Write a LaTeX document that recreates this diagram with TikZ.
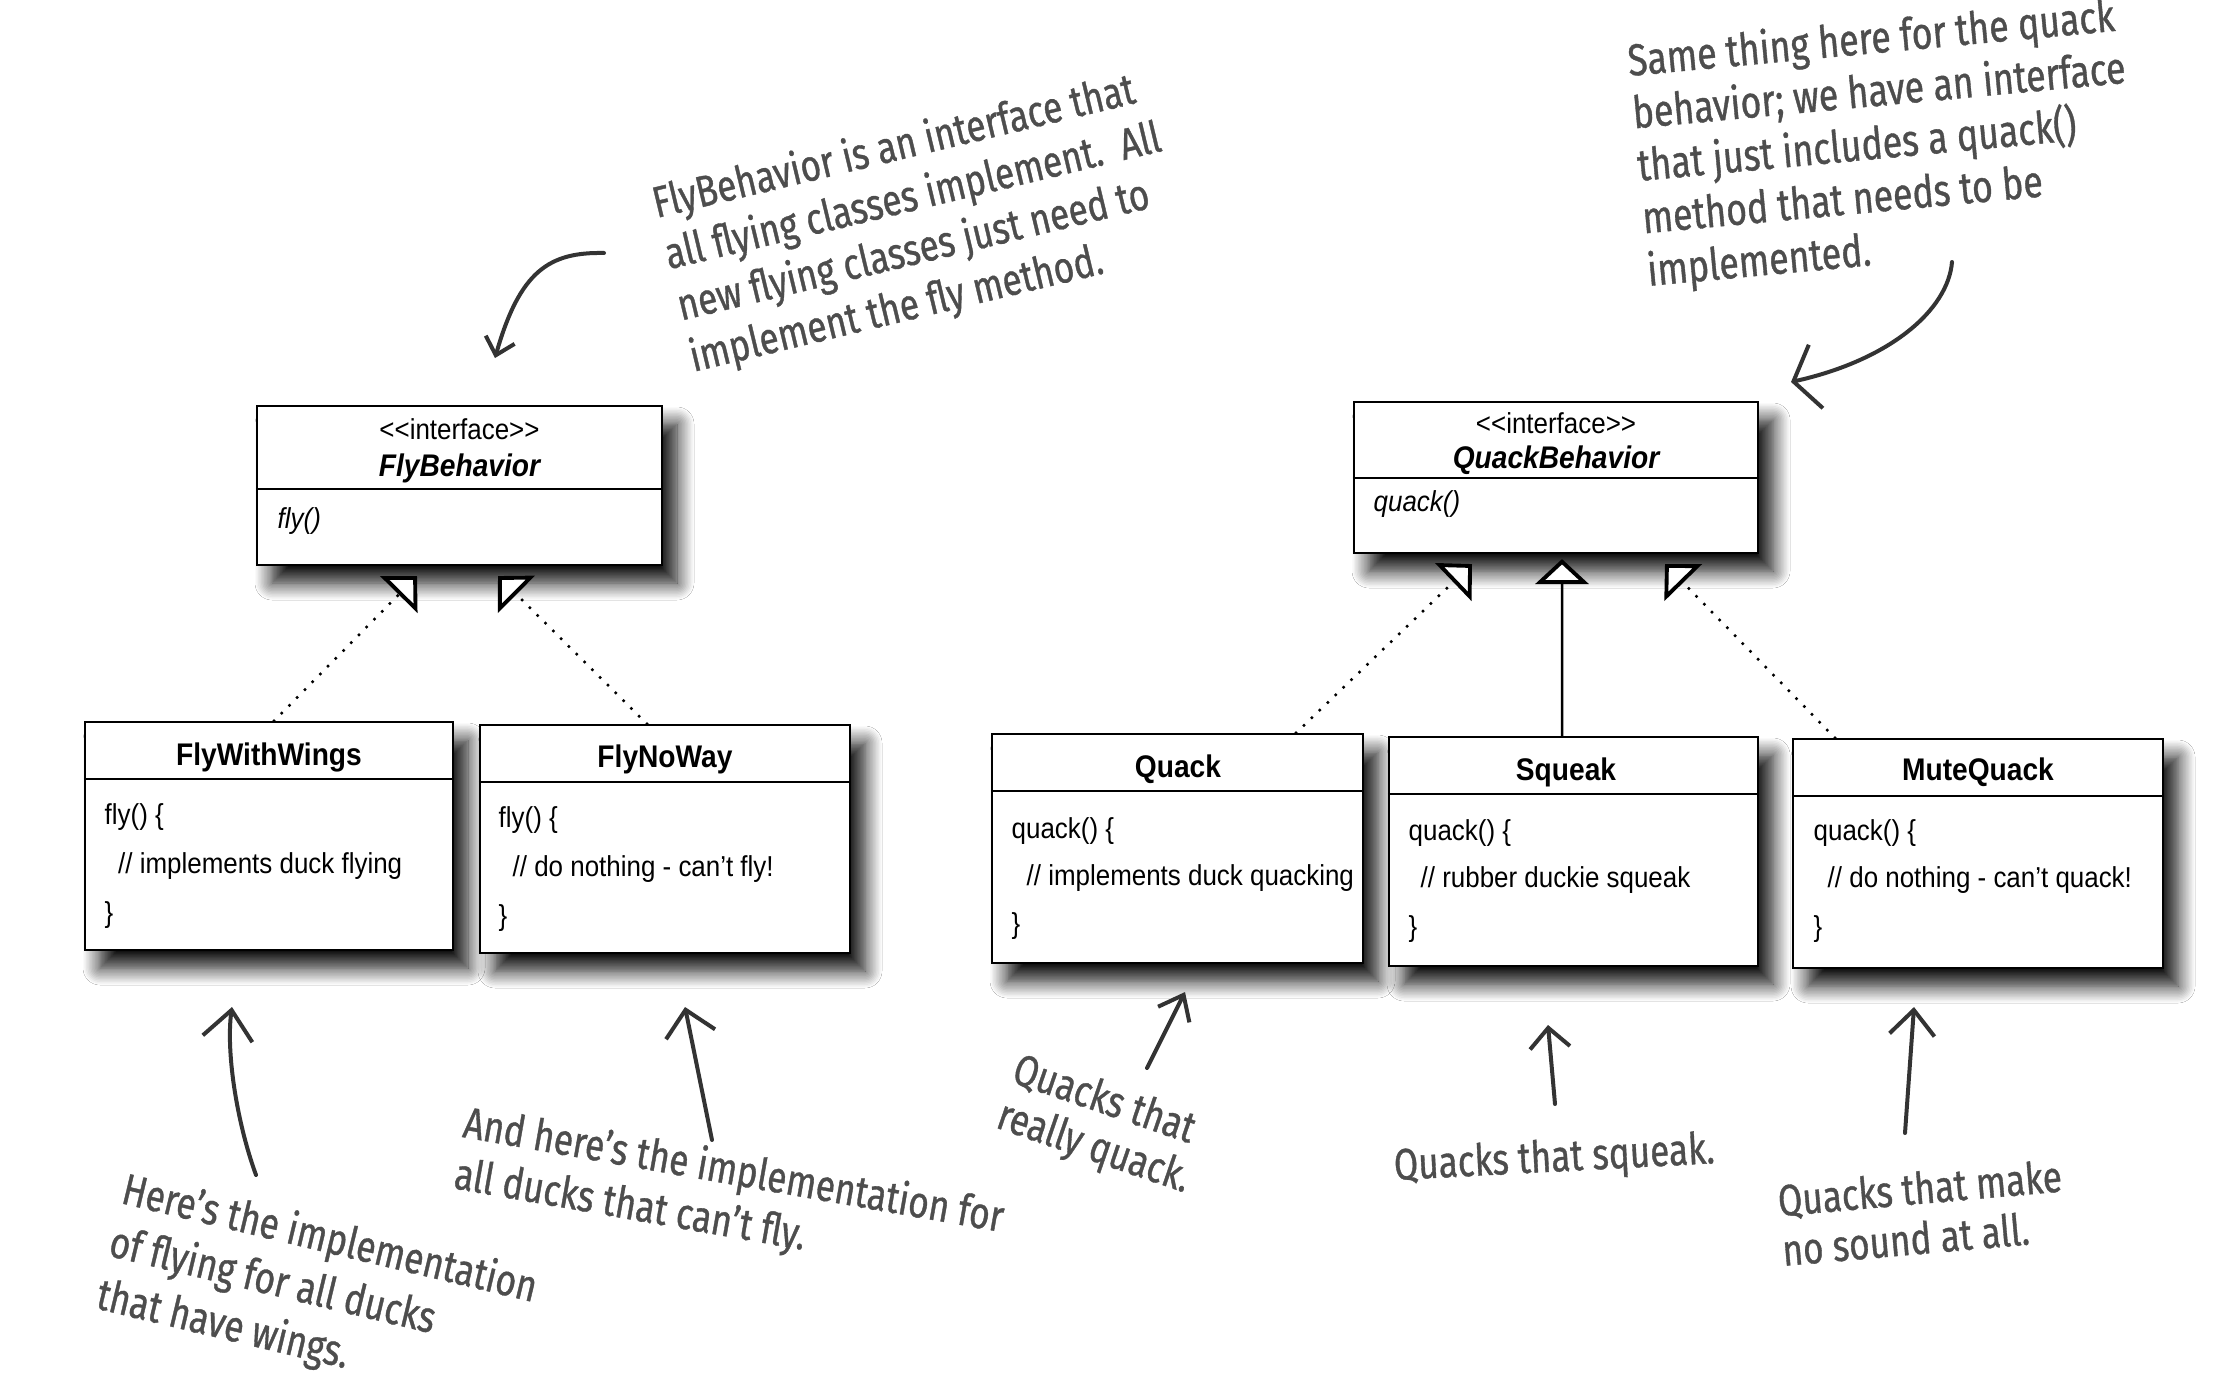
\documentclass[tikz,border=0pt]{standalone}
\usepackage{fontspec}
\setmainfont[FakeStretch=0.9]{Liberation Sans}
\newfontfamily\handfont[FakeStretch=0.8, FakeBold=0.8]{Fira Sans}
\usetikzlibrary{arrows.meta,shadows,shadows.blur}
\definecolor{handgray}{HTML}{4D4D4D}
\definecolor{pen}{HTML}{333333}
\begin{document}
\begin{tikzpicture}[x=0.1mm, y=-0.1mm,
  box/.style={draw=black, line width=0.6pt, fill=white, inner sep=0pt,
    blur shadow={shadow xshift=1.5mm, shadow yshift=-1.8mm, shadow blur radius=1.7mm, shadow blur steps=12, shadow opacity=95}},
  divider/.style={draw=black, line width=0.6pt},
  ttl/.style={font=\fontsize{8.9pt}{10pt}\selectfont\bfseries, anchor=base, inner sep=0pt},
  ittl/.style={font=\fontsize{8.9pt}{10pt}\selectfont\bfseries\itshape, anchor=base, inner sep=0pt},
  stereo/.style={font=\fontsize{8.2pt}{10pt}\selectfont, anchor=base, inner sep=0pt},
  code/.style={font=\fontsize{8.2pt}{10pt}\selectfont, anchor=base west, inner sep=0pt},
  icode/.style={font=\fontsize{8.2pt}{10pt}\selectfont\itshape, anchor=base west, inner sep=0pt},
  realize/.style={line width=0.35mm, dash pattern=on 0pt off 1.1mm, line cap=round,
    -{Triangle[length=2.6mm, width=5.2mm, line width=1.1pt, fill=white]}},
  inherit/.style={line width=0.25mm,
    -{Triangle[length=2.5mm, width=5.3mm, line width=1.1pt, fill=white]}},
  hand/.style={font=\handfont\fontsize{12.5pt}{15pt}\selectfont, text=handgray, align=left, anchor=base west, inner sep=0pt},
  scribble/.style={draw=pen, line width=0.4mm, line cap=round, line join=round},
]
\fill[white] (0,0) rectangle (2238,1396);
\useasboundingbox (0,0) rectangle (2238,1396);

% ---------- FlyBehavior ----------
\node[box, minimum width=40.5mm, minimum height=15.9mm] (fb) at (459.5,485.5) {};
\draw[divider] (fb.west |- 0,489) -- (fb.east |- 0,489);
\node[stereo] (fbst) at (459.5,439) {<\kern0pt<interface>\kern0pt>};
\node[ittl] (fbt) at (459.5,476) {FlyBehavior};
\node[icode] (fbm) at (277,528) {fly()};

% ---------- QuackBehavior ----------
\node[box, minimum width=40.4mm, minimum height=15.1mm] (qb) at (1556,477.5) {};
\draw[divider] (qb.west |- 0,478) -- (qb.east |- 0,478);
\node[stereo] (qbst) at (1556,433) {<\kern0pt<interface>\kern0pt>};
\node[ittl] (qbt) at (1556,468) {QuackBehavior};
\node[icode] (qbm) at (1373,511) {quack()};

% ---------- FlyWithWings ----------
\node[box, minimum width=36.8mm, minimum height=22.8mm] (fww) at (269,836) {};
\draw[divider] (fww.west |- 0,779) -- (fww.east |- 0,779);
\node[ttl] (fwwt) at (269,765) {FlyWithWings};
\node[code] (fww1) at (104,824) {fly() \{};
\node[code] (fww2) at (117.5,873) {// implements duck flying};
\node[code] (fww3) at (104,922) {\}};

% ---------- FlyNoWay ----------
\node[box, minimum width=37mm, minimum height=22.8mm] (fnw) at (665,839) {};
\draw[divider] (fnw.west |- 0,782) -- (fnw.east |- 0,782);
\node[ttl] (fnwt) at (665,767) {FlyNoWay};
\node[code] (fnw1) at (498,827) {fly() \{};
\node[code] (fnw2) at (512,876) {// do nothing - can’t fly!};
\node[code] (fnw3) at (498,925) {\}};

% ---------- Quack ----------
\node[box, minimum width=37.1mm, minimum height=22.9mm] (qk) at (1177.5,848.5) {};
\draw[divider] (qk.west |- 0,791) -- (qk.east |- 0,791);
\node[ttl] (qkt) at (1178,777) {Quack};
\node[code] (qk1) at (1011,838) {quack() \{};
\node[code] (qk2) at (1026,885) {// implements duck quacking};
\node[code] (qk3) at (1011,933) {\}};

% ---------- Squeak ----------
\node[box, minimum width=36.9mm, minimum height=22.9mm] (sq) at (1573.5,851.5) {};
\draw[divider] (sq.west |- 0,794) -- (sq.east |- 0,794);
\node[ttl] (sqt) at (1566,780) {Squeak};
\node[code] (sq1) at (1408,840) {quack() \{};
\node[code] (sq2) at (1420,887) {// rubber duckie squeak};
\node[code] (sq3) at (1408,936) {\}};

% ---------- MuteQuack ----------
\node[box, minimum width=37mm, minimum height=22.9mm] (mq) at (1978,853.5) {};
\draw[divider] (mq.west |- 0,796) -- (mq.east |- 0,796);
\node[ttl] (mqt) at (1978,780) {MuteQuack};
\node[code] (mq1) at (1813,840) {quack() \{};
\node[code] (mq2) at (1827,887) {// do nothing - can’t quack!};
\node[code] (mq3) at (1813,936) {\}};

% ---------- UML connectors ----------
\draw[realize] ([xshift=0.5mm]fww.north) -- ([xshift=-4.25mm,yshift=-1mm]fb.south);
\draw[realize] ([xshift=-1.8mm]fnw.north) -- ([xshift=3.85mm,yshift=-1mm]fb.south);
\draw[realize] ([xshift=11.85mm]qk.north) -- ([xshift=-8.4mm,yshift=-1mm]qb.south);
\draw[inherit] ([xshift=-1.15mm]sq.north) -- ([xshift=0.6mm,yshift=-0.5mm]qb.south);
\draw[realize] ([xshift=-14.3mm]mq.north) -- ([xshift=10.9mm,yshift=-1mm]qb.south);

% ---------- handwritten notes (anchored at the baseline of their last line) ----------
\node[hand, rotate=13.5] (n1) at (693,372) {FlyBehavior is an interface that\\all flying classes implement.\ \ All\\new flying classes just need to\\implement the fly method.};
\node[hand, rotate=5.3, font=\handfont\fontsize{12.7pt}{15pt}\selectfont] (n2) at (1648,286) {Same thing here for the quack\\behavior; we have an interface\\that just includes a quack()\\method that needs to be\\implemented.};
\node[hand, rotate=-13.5, font=\handfont\fontsize{12.5pt}{15.4pt}\selectfont] (n3) at (94,1308) {Here’s the implementation\\of flying for all ducks\\that have wings.};
\node[hand, rotate=-10, font=\handfont\fontsize{12.5pt}{14.8pt}\selectfont] (n4) at (452,1188) {And here’s the implementation for\\all ducks that can’t fly.};
\node[hand, rotate=-19, font=\handfont\fontsize{12.5pt}{13.7pt}\selectfont] (n5) at (994,1127) {Quacks that\\really quack.};
\node[hand, rotate=3] (n6) at (1394,1180) {Quacks that squeak.};
\node[hand, rotate=5, font=\handfont\fontsize{12.5pt}{14.2pt}\selectfont] (n7) at (1783,1266) {Quacks that make\\no sound at all.};

% ---------- handwritten arrows ----------
\coordinate (a1s) at (604,253);  \coordinate (a1e) at (495,358);
\coordinate (a2s) at (1952,262); \coordinate (a2e) at (1791,382);
\coordinate (a3s) at (256,1175); \coordinate (a3e) at (232,1007);
\coordinate (a4s) at (712,1140); \coordinate (a4e) at (685,1007);
\coordinate (a5s) at (1147,1068);\coordinate (a5e) at (1185,992);
\coordinate (a6s) at (1555,1104);\coordinate (a6e) at (1548,1025);
\coordinate (a7s) at (1905,1133);\coordinate (a7e) at (1914,1007);

\draw[scribble, -{Straight Barb[length=1.6mm, width=3mm]}] (a1s) .. controls (550,252) and (520,270) .. (a1e);
\draw[scribble, -{Straight Barb[length=2.3mm, width=6.5mm]}] (a2s) .. controls (1948,310) and (1890,360) .. (a2e);
\draw[scribble, -{Straight Barb[length=2.9mm, width=5mm]}] (a3s) .. controls (236,1120) and (226,1050) .. (a3e);
\draw[scribble, -{Straight Barb[length=2.5mm, width=5mm]}] (a4s) -- (a4e);
\draw[scribble, -{Straight Barb[length=2.2mm, width=3.5mm]}] (a5s) -- (a5e);
\draw[scribble, -{Straight Barb[length=2mm, width=4mm]}] (a6s) -- (a6e);
\draw[scribble, -{Straight Barb[length=2.5mm, width=4.5mm]}] (a7s) -- (a7e);
\end{tikzpicture}
\end{document}
